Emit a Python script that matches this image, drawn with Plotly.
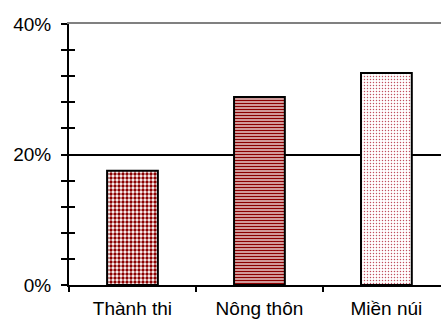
import plotly.graph_objects as go

# Share of each area (percent)
areas = ["Thành thi", "Nông thôn", "Miền núi"]
shares = [17.5, 28.8, 32.5]
y_ticks = [0, 20, 40]
y_tick_labels = ["0%", "20%", "40%"]

dark_red = "#8b0000"

fig = go.Figure()
fig.add_trace(go.Bar(
    x=areas,
    y=shares,
    width=0.4,
    marker=dict(
        color="white",
        line=dict(color="black", width=2),
        pattern=dict(
            shape=[".", "-", "."],
            fgcolor=[dark_red, dark_red, "#c0505f"],
            bgcolor="white",
            size=[4, 3, 3],
            solidity=[0.55, 0.6, 0.18],
            fillmode="replace",
        ),
    ),
    showlegend=False,
))

# Ghost trace on the top axis so its line is drawn
fig.add_trace(go.Bar(x=areas, y=[None] * 3, xaxis="x2", showlegend=False))
# Ghost trace for the inner tick marks on the value axis
fig.add_trace(go.Bar(x=areas, y=[None] * 3, yaxis="y2", showlegend=False))

font = dict(family="Liberation Sans, Arial, sans-serif", size=19, color="black")

fig.update_layout(
    width=441,
    height=320,
    margin=dict(l=69, r=0, t=24, b=35, autoexpand=False),
    paper_bgcolor="white",
    plot_bgcolor="white",
    font=font,
    bargap=0.6,
    xaxis=dict(
        range=[-0.5, 2.43],
        automargin=False,
        showline=True, linecolor="black", linewidth=2,
        ticks="outside", ticklen=5, tickwidth=2, tickcolor="black",
        tickson="boundaries",
        showgrid=False,
        tickfont=dict(size=19),
        ticklabelstandoff=5,
    ),
    xaxis2=dict(
        overlaying="x", side="top", anchor="y",
        range=[-0.5, 2.43],
        automargin=False,
        showline=True, linecolor="#808080", linewidth=2,
        showticklabels=False, ticks="", showgrid=False,
    ),
    yaxis=dict(
        range=[0, 40],
        automargin=False,
        tickvals=y_ticks,
        ticktext=y_tick_labels,
        showline=True, linecolor="black", linewidth=2,
        ticks="outside", ticklen=6, tickwidth=2, tickcolor="black",
        minor=dict(dtick=4, ticks="outside", ticklen=6, tickwidth=2, tickcolor="black", showgrid=False),
        showgrid=True, gridcolor="black", gridwidth=1.5,
        zeroline=False,
        tickfont=dict(size=19),
        ticklabelstandoff=6,
    ),
    yaxis2=dict(
        overlaying="y", anchor="x", side="left",
        range=[0, 40],
        automargin=False,
        tickvals=y_ticks,
        showticklabels=False,
        ticks="inside", ticklen=6, tickwidth=2, tickcolor="black",
        minor=dict(dtick=4, ticks="inside", ticklen=6, tickwidth=2, tickcolor="black"),
        showgrid=False, zeroline=False, showline=False,
    ),
)

fig.write_html("out.html")
